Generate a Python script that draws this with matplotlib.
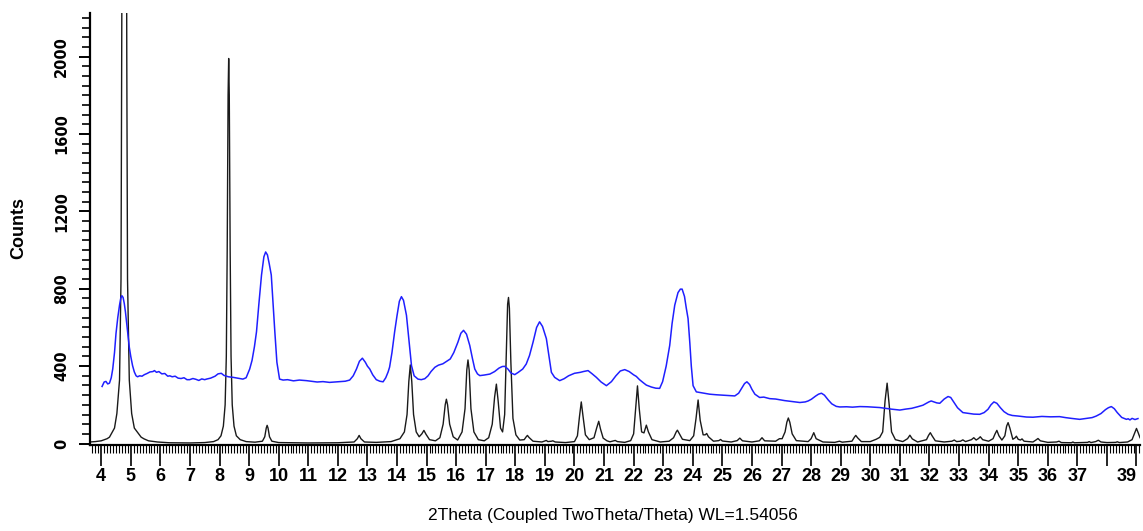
import numpy as np
import matplotlib
matplotlib.use('Agg')
import matplotlib.pyplot as plt
from matplotlib.ticker import MultipleLocator, FixedLocator

# simulated pattern (black)
sim_x = [3.62, 3.8, 4.0, 4.2, 4.28, 4.45, 4.53, 4.62, 4.67, 4.695, 4.72, 4.78, 4.84, 4.865, 4.89, 4.95, 5.03, 5.12, 5.35,
         5.45, 5.6, 5.9, 6.3, 7.0, 7.5, 7.8, 7.95, 8.05, 8.13, 8.19, 8.23, 8.26, 8.29, 8.31, 8.33, 8.36, 8.39, 8.43,
         8.49, 8.57, 8.7, 8.9, 9.2, 9.45, 9.53, 9.58, 9.61, 9.64, 9.69, 9.77, 10.0, 11.0, 12.0, 12.55, 12.66, 12.72, 12.78, 12.9,
         13.3, 13.8, 14.1, 14.25, 14.34, 14.40, 14.45, 14.50, 14.56, 14.65, 14.75, 14.84, 14.91, 14.98, 15.1, 15.3, 15.45, 15.56, 15.63, 15.67,
         15.71, 15.78, 15.9, 16.05, 16.2, 16.3, 16.36, 16.40, 16.44, 16.5, 16.6, 16.75, 16.95, 17.1, 17.22, 17.3, 17.36, 17.42, 17.5, 17.57,
         17.64, 17.70, 17.74, 17.77, 17.80, 17.85, 17.92, 18.02, 18.15, 18.3, 18.37, 18.41, 18.46, 18.6, 18.9, 19.02, 19.05, 19.1, 19.22, 19.27,
         19.35, 19.7, 20.0, 20.1, 20.17, 20.23, 20.29, 20.37, 20.5, 20.66, 20.75, 20.82, 20.88, 20.97, 21.1, 21.2, 21.33, 21.38, 21.45, 21.7,
         21.9, 22.0, 22.07, 22.13, 22.19, 22.27, 22.35, 22.43, 22.5, 22.62, 22.9, 23.2, 23.35, 23.44, 23.48, 23.53, 23.65, 23.9, 24.03, 24.11,
         24.18, 24.25, 24.35, 24.42, 24.47, 24.53, 24.7, 24.88, 24.94, 25.0, 25.3, 25.5, 25.59, 25.68, 26.0, 26.25, 26.34, 26.43, 26.8, 26.93,
         27.02, 27.12, 27.18, 27.23, 27.28, 27.36, 27.5, 27.9, 28.0, 28.09, 28.17, 28.4, 28.8, 28.96, 29.05, 29.38, 29.46, 29.51, 29.57, 29.7,
         30.0, 30.2, 30.32, 30.42, 30.50, 30.57, 30.64, 30.72, 30.85, 31.1, 31.26, 31.34, 31.42, 31.6, 31.9, 31.97, 32.03, 32.09, 32.2, 32.5,
         32.76, 32.84, 32.92, 33.05, 33.13, 33.22, 33.42, 33.50, 33.58, 33.66, 33.72, 33.8, 34.0, 34.15, 34.22, 34.28, 34.35, 34.45, 34.55, 34.61,
         34.66, 34.72, 34.82, 34.9, 34.94, 35.0, 35.08, 35.13, 35.2, 35.5, 35.6, 35.67, 35.75, 36.0, 36.3, 36.38, 36.46, 36.8, 36.85, 36.9,
         37.35, 37.4, 37.46, 37.62, 37.71, 37.8, 38.0, 38.3, 38.35, 38.42, 38.7, 38.85, 38.94, 39.0, 39.06, 39.12]
sim_y = [8, 10, 14, 25, 33, 80, 155, 328, 850, 2000, 4000, 9000, 4000, 2000, 850, 328, 155, 80, 33,
         24, 14, 8, 4, 3, 5, 10, 20, 40, 90, 200, 450, 1000, 1800, 1990, 1800, 1000, 450, 200,
         90, 40, 20, 10, 7, 12, 35, 80, 94, 80, 35, 12, 5, 3, 4, 8, 25, 42, 25, 8,
         6, 10, 25, 60, 150, 320, 406, 320, 150, 60, 35, 50, 68, 48, 20, 14, 30, 100, 200, 229,
         200, 100, 35, 18, 60, 180, 380, 432, 380, 180, 60, 20, 14, 30, 100, 240, 307, 220, 80, 60,
         150, 500, 720, 755, 700, 420, 130, 45, 18, 20, 35, 42, 32, 12, 8, 14, 16, 10, 12, 14,
         8, 5, 10, 40, 140, 215, 140, 45, 20, 30, 80, 115, 75, 28, 14, 9, 14, 16, 10, 6,
         15, 50, 180, 298, 180, 60, 55, 95, 60, 20, 8, 12, 30, 60, 69, 55, 22, 15, 40, 130,
         225, 120, 45, 45, 52, 35, 12, 15, 21, 13, 8, 15, 28, 14, 8, 14, 30, 14, 12, 25,
         25, 60, 110, 132, 110, 50, 15, 10, 25, 56, 25, 8, 6, 12, 7, 12, 32, 42, 30, 10,
         10, 22, 32, 60, 220, 312, 200, 60, 20, 10, 25, 43, 24, 8, 20, 42, 56, 40, 14, 8,
         12, 18, 10, 12, 19, 10, 20, 30, 18, 26, 35, 20, 12, 25, 50, 68, 40, 18, 40, 90,
         108, 80, 22, 30, 38, 22, 18, 24, 12, 8, 18, 26, 14, 6, 8, 12, 5, 4, 8, 4,
         6, 10, 5, 10, 17, 8, 5, 6, 9, 5, 8, 20, 55, 78, 55, 30]

# measured pattern (blue)
exp_x = [4.03, 4.10, 4.16, 4.22, 4.28, 4.34, 4.39, 4.45, 4.50, 4.56, 4.62, 4.66, 4.70, 4.74, 4.78, 4.82, 4.87, 4.91, 4.95, 5.00,
         5.06, 5.12, 5.18, 5.23, 5.30, 5.38, 5.46, 5.55, 5.65, 5.75, 5.80, 5.87, 5.95, 6.05, 6.15, 6.25, 6.32, 6.4, 6.5, 6.6,
         6.7, 6.8, 6.9, 6.99, 7.1, 7.2, 7.3, 7.4, 7.5, 7.56, 7.7, 7.85, 7.95, 8.06, 8.15, 8.3, 8.46, 8.6, 8.79, 8.9,
         9.02, 9.1, 9.18, 9.25, 9.33, 9.42, 9.5, 9.56, 9.62, 9.68, 9.75, 9.81, 9.87, 9.94, 10.03, 10.15, 10.3, 10.5, 10.7, 10.94,
         11.1, 11.3, 11.5, 11.72, 11.9, 12.1, 12.25, 12.40, 12.52, 12.63, 12.73, 12.83, 12.93, 13.0, 13.08, 13.18, 13.30, 13.42, 13.53, 13.62,
         13.70, 13.75, 13.83, 13.92, 14.0, 14.08, 14.15, 14.22, 14.32, 14.40, 14.49, 14.58, 14.71, 14.82, 14.94, 15.05, 15.15, 15.28, 15.40, 15.55,
         15.68, 15.80, 15.92, 16.06, 16.16, 16.25, 16.35, 16.46, 16.55, 16.63, 16.72, 16.80, 16.95, 17.14, 17.3, 17.45, 17.56, 17.64, 17.75, 17.85,
         17.98, 18.1, 18.25, 18.37, 18.48, 18.60, 18.72, 18.82, 18.92, 19.05, 19.14, 19.22, 19.33, 19.50, 19.65, 19.8, 20.0, 20.2, 20.3, 20.46,
         20.6, 20.74, 20.9, 21.08, 21.25, 21.4, 21.55, 21.70, 21.85, 22.0, 22.09, 22.2, 22.32, 22.43, 22.6, 22.75, 22.88, 22.98, 23.1, 23.22,
         23.3, 23.39, 23.5, 23.58, 23.64, 23.72, 23.78, 23.84, 23.9, 23.95, 24.01, 24.12, 24.3, 24.57, 24.8, 25.0, 25.2, 25.42, 25.55, 25.65,
         25.75, 25.83, 25.92, 26.0, 26.1, 26.26, 26.4, 26.6, 26.8, 26.94, 27.1, 27.3, 27.45, 27.62, 27.8, 27.9, 28.01, 28.15, 28.25, 28.35,
         28.45, 28.58, 28.7, 28.85, 28.97, 29.2, 29.4, 29.65, 29.9, 30.1, 30.32, 30.5, 30.7, 31.0, 31.2, 31.4, 31.6, 31.78, 31.9, 31.98,
         32.06, 32.18, 32.25, 32.35, 32.5, 32.63, 32.72, 32.82, 32.95, 33.13, 33.35, 33.50, 33.70, 33.85, 33.98, 34.08, 34.18, 34.28, 34.4, 34.52,
         34.66, 34.8, 35.0, 35.28, 35.5, 35.8, 36.1, 36.40, 36.6, 36.8, 37.08, 37.3, 37.5, 37.64, 37.8, 37.95, 38.05, 38.15, 38.25, 38.35,
         38.5, 38.66, 38.72, 38.78, 38.85, 38.95, 39.05]
exp_y = [295, 318, 321, 308, 312, 340, 385, 470, 568, 650, 715, 750, 764, 755, 724, 680, 611, 560, 498, 450,
         403, 370, 350, 345, 350, 348, 356, 362, 370, 372, 377, 368, 372, 360, 362, 348, 350, 345, 348, 338,
         336, 340, 330, 330, 336, 332, 326, 334, 330, 333, 338, 348, 360, 363, 352, 345, 342, 338, 333, 340,
         385, 430, 500, 577, 720, 871, 965, 990, 975, 930, 871, 720, 578, 420, 333, 328, 330, 324, 328, 325,
         322, 318, 320, 316, 318, 320, 322, 328, 350, 385, 425, 441, 420, 400, 385, 355, 330, 322, 319, 340,
         370, 395, 470, 577, 660, 735, 759, 740, 663, 540, 403, 350, 333, 330, 335, 350, 372, 394, 405, 412,
         425, 437, 470, 524, 570, 585, 565, 507, 440, 385, 360, 351, 354, 359, 372, 390, 398, 399, 385, 365,
         356, 368, 385, 411, 455, 524, 600, 629, 605, 542, 450, 368, 342, 325, 335, 350, 363, 368, 372, 377,
         360, 342, 318, 299, 320, 350, 375, 382, 372, 355, 347, 330, 315, 302, 292, 286, 285, 320, 400, 507,
         620, 715, 780, 798, 798, 760, 700, 646, 520, 400, 299, 267, 262, 255, 252, 250, 248, 246, 260, 285,
         310, 319, 305, 280, 255, 238, 240, 232, 230, 226, 222, 218, 215, 212, 215, 220, 229, 245, 255, 260,
         250, 225, 205, 192, 189, 190, 188, 191, 190, 188, 186, 182, 178, 173, 178, 182, 190, 198, 208, 215,
         220, 214, 210, 208, 230, 243, 238, 215, 185, 160, 155, 152, 151, 160, 177, 200, 215, 208, 185, 165,
         151, 145, 142, 137, 136, 140, 138, 139, 134, 130, 125, 130, 134, 142, 155, 175, 185, 191, 180, 160,
         135, 125, 128, 122, 130, 124, 129]

x_major = list(range(4, 40))
x_labels = [str(v) if v != 38 else '' for v in x_major]
y_major = [0, 400, 800, 1200, 1600, 2000]

fig = plt.figure(figsize=(11.43, 5.31), dpi=100, facecolor='w')
ax = fig.add_axes([0.0787, 0.1629, 0.9187, 0.8126])

ax.plot(sim_x, sim_y, color='#1a1a1a', lw=1.0)
ax.plot(exp_x, exp_y, color='#1f1fff', lw=1.1)

ax.set_xlim(3.62, 39.12)
ax.set_ylim(-5, 2225)

for s in ['top', 'right']:
    ax.spines[s].set_visible(False)
for s in ['left', 'bottom']:
    ax.spines[s].set_linewidth(1.6)

ax.xaxis.set_major_locator(FixedLocator(x_major))
ax.set_xticklabels(x_labels)
ax.xaxis.set_minor_locator(MultipleLocator(0.1))
ax.tick_params(axis='x', which='major', length=15, width=1.2, pad=2)
ax.tick_params(axis='x', which='minor', length=6, width=0.8)
for lab in ax.get_xticklabels():
    lab.set_family('Liberation Sans')
    lab.set_fontsize(13)
    lab.set_fontweight('bold')
ax.get_xticklabels()[-1].set_ha('right')

ax.yaxis.set_major_locator(FixedLocator(y_major))
ax.yaxis.set_minor_locator(MultipleLocator(50))
ax.tick_params(axis='y', which='major', length=8, width=1.4, pad=7)
ax.tick_params(axis='y', which='minor', length=6, width=1.2)
for lab in ax.get_yticklabels():
    lab.set_rotation(90)
    lab.set_va('center')
    lab.set_family('DejaVu Sans')
    lab.set_fontsize(10.5)
    lab.set_fontweight('bold')

fig.text(0.016, 0.571, 'Counts', rotation=90, ha='center', va='center',
         fontsize=13, fontweight='bold', family='Liberation Sans')
fig.text(0.536, 0.03, '2Theta (Coupled TwoTheta/Theta) WL=1.54056', ha='center', va='center',
         fontsize=12.5, family='Liberation Sans')

plt.savefig('out.png', dpi=100)
